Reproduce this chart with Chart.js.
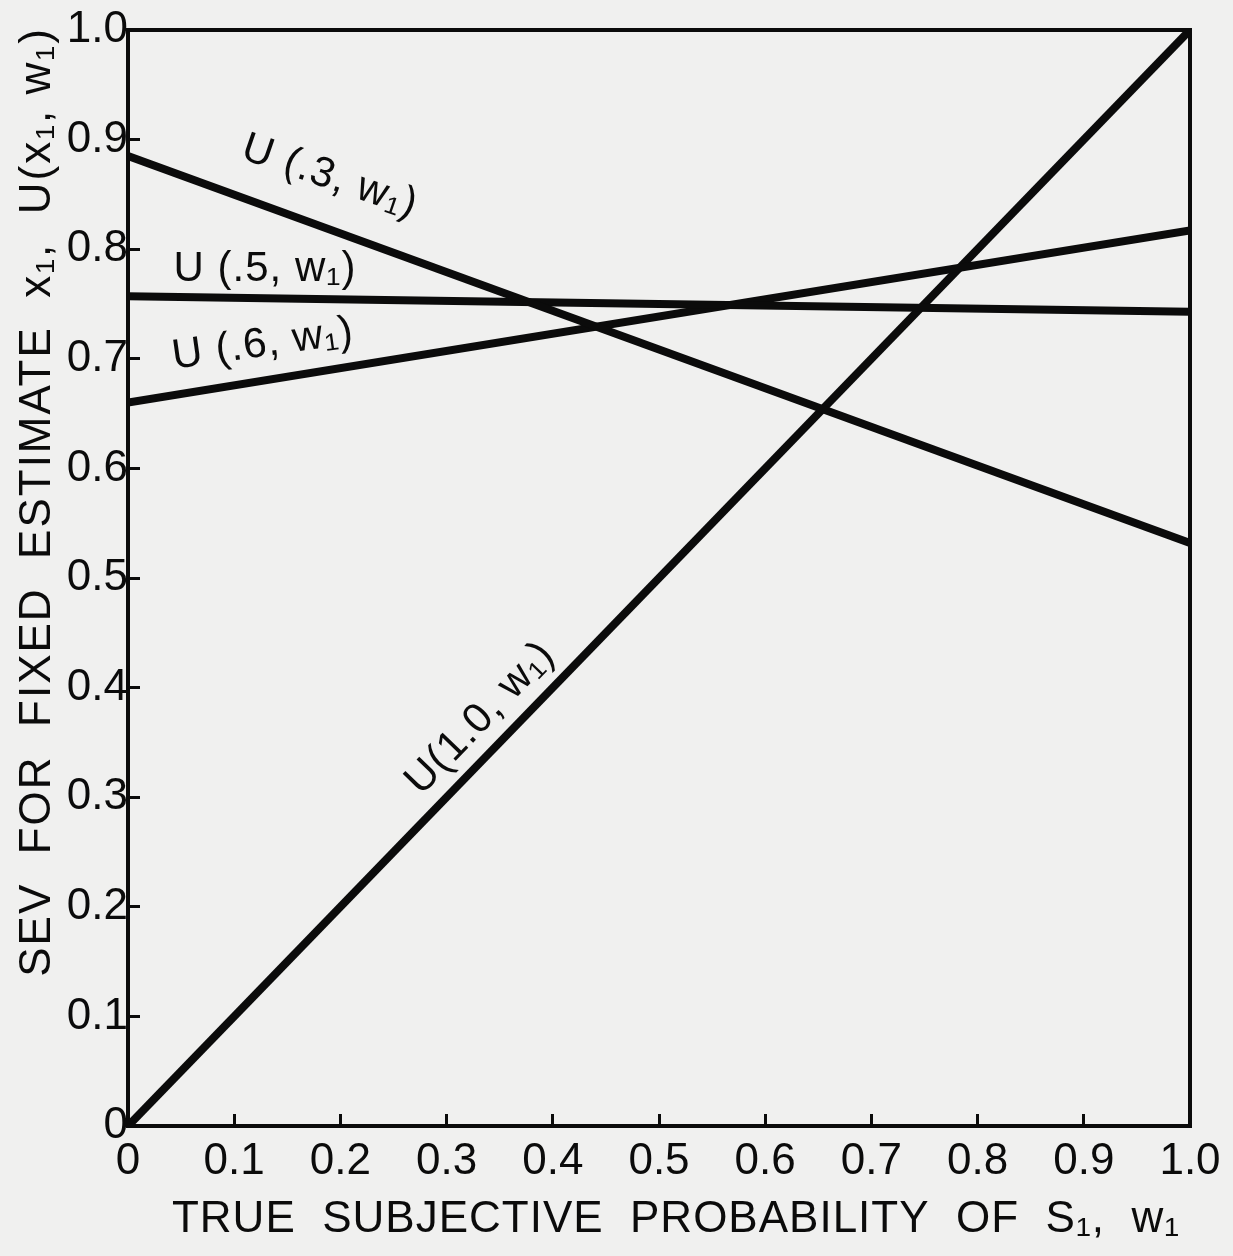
<!DOCTYPE html>
<html>
<head>
<meta charset="utf-8">
<script src="https://cdn.jsdelivr.net/npm/chart.js@4/dist/chart.umd.min.js"></script>
<style>
  html, body { margin: 0; padding: 0; background: #f0f0ef; }
  #wrap { width: 1233px; height: 1256px; position: relative; }
</style>
</head>
<body>
<div id="wrap"><canvas id="sevChart"></canvas></div>
<script>
// true subjective probability w1 (x endpoints of each straight line)
const wValues = [0, 1];

// SEV for fixed estimate at w1 = 0 and w1 = 1
const sevEstimate03 = [0.885, 0.532];
const sevEstimate05 = [0.757, 0.743];
const sevEstimate06 = [0.660, 0.817];
const sevEstimate10 = [0.0, 1.0];

const xTickLabels = ['0', '0.1', '0.2', '0.3', '0.4', '0.5', '0.6', '0.7', '0.8', '0.9', '1.0'];
const yTickLabels = ['0', '0.1', '0.2', '0.3', '0.4', '0.5', '0.6', '0.7', '0.8', '0.9', '1.0'];

const seriesNames = ['U (.3, w\u2081)', 'U (.5, w\u2081)', 'U (.6, w\u2081)', 'U(1.0, w\u2081)'];

const xTitle = 'TRUE  SUBJECTIVE  PROBABILITY  OF  S\u2081,  w\u2081';
const yTitle = 'SEV  FOR  FIXED  ESTIMATE  x\u2081,  U(x\u2081, w\u2081)';

const INK = '#0b0b0b';
const FONT = '"Liberation Sans", Arial, sans-serif';

// where each curve label sits (data units) and its tilt in degrees
const labelSpots = [
    { x: 0.19, y: 0.866, angle: 19 },
    { x: 0.129, y: 0.782, angle: 0 },
    { x: 0.127, y: 0.713, angle: -8 },
    { x: 0.332, y: 0.372, angle: -46 }
];

const toPoints = (ys) => wValues.map((w, i) => ({ x: w, y: ys[i] }));

const lineStyle = {
    showLine: true,
    borderColor: INK,
    borderWidth: 8,
    pointRadius: 0,
    fill: false
};

const paperTextPlugin = {
    id: 'paperText',
    afterDraw(chart) {
        const ctx = chart.ctx;
        const area = chart.chartArea;
        const xs = chart.scales.x;
        const ys = chart.scales.y;

        // frame around the plot
        ctx.save();
        ctx.strokeStyle = INK;
        ctx.lineWidth = 4;
        ctx.strokeRect(area.left, area.top, area.right - area.left, area.bottom - area.top);
        ctx.restore();

        ctx.save();
        ctx.fillStyle = INK;
        ctx.textAlign = 'center';
        ctx.textBaseline = 'middle';

        // x axis title
        ctx.font = '44px ' + FONT;
        ctx.letterSpacing = '1px';
        ctx.fillText(xTitle, 676, 1220);

        // y axis title
        ctx.save();
        ctx.translate(38, 502);
        ctx.rotate(-Math.PI / 2);
        ctx.letterSpacing = '2px';
        ctx.fillText(yTitle, 0, 0);
        ctx.restore();

        // curve labels
        ctx.font = '42px ' + FONT;
        ctx.letterSpacing = '1px';
        labelSpots.forEach((spot, i) => {
            ctx.save();
            ctx.translate(xs.getPixelForValue(spot.x), ys.getPixelForValue(spot.y));
            ctx.rotate(spot.angle * Math.PI / 180);
            ctx.fillText(seriesNames[i], 0, 0);
            ctx.restore();
        });
        ctx.restore();
    }
};

const noOverflow = (scale) => {
    scale.paddingTop = 0;
    scale.paddingBottom = 0;
    scale.paddingLeft = 0;
    scale.paddingRight = 0;
};

const axisCommon = {
    type: 'linear',
    min: 0,
    max: 1,
    border: { display: true, color: INK, width: 4 },
    grid: {
        drawOnChartArea: false,
        drawTicks: true,
        tickLength: -12,
        color: INK,
        lineWidth: 3
    }
};

new Chart(document.getElementById('sevChart'), {
    type: 'scatter',
    data: {
        datasets: [
            { label: seriesNames[0], data: toPoints(sevEstimate03), ...lineStyle },
            { label: seriesNames[1], data: toPoints(sevEstimate05), ...lineStyle },
            { label: seriesNames[2], data: toPoints(sevEstimate06), ...lineStyle },
            { label: seriesNames[3], data: toPoints(sevEstimate10), ...lineStyle }
        ]
    },
    options: {
        responsive: true,
        maintainAspectRatio: false,
        animation: false,
        layout: { padding: { top: 30, right: 43, left: 0, bottom: 0 } },
        plugins: {
            legend: { display: false },
            tooltip: { enabled: false },
            title: { display: false }
        },
        scales: {
            x: {
                ...axisCommon,
                position: 'bottom',
                ticks: {
                    stepSize: 0.1,
                    maxRotation: 0,
                    autoSkip: false,
                    padding: 21,
                    color: INK,
                    font: { family: FONT, size: 44 },
                    callback: (value, index) => xTickLabels[index]
                },
                afterFit: (scale) => { scale.height = 130; noOverflow(scale); }
            },
            y: {
                ...axisCommon,
                position: 'left',
                ticks: {
                    stepSize: 0.1,
                    autoSkip: false,
                    padding: 12,
                    color: INK,
                    font: { family: FONT, size: 44 },
                    callback: (value, index) => yTickLabels[index]
                },
                afterFit: (scale) => { scale.width = 128; noOverflow(scale); }
            }
        }
    },
    plugins: [paperTextPlugin]
});
</script>
</body>
</html>
